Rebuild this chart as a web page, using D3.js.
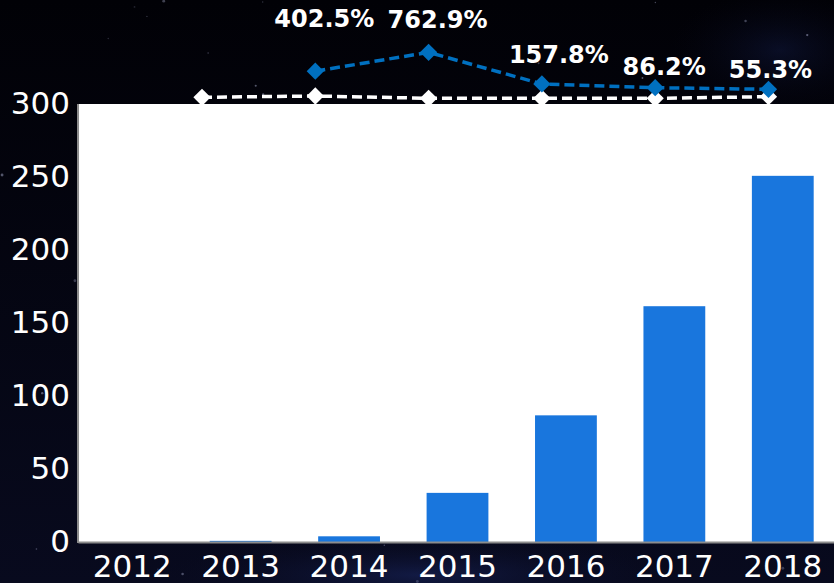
<html>
  <head>
    <title>growth</title>
    <script src="https://cdn.jsdelivr.net/npm/d3@7/dist/d3.min.js"></script>
  </head>
  <body style="margin: 0; background-color: #000;">
    <svg width="834" height="583" id="mainsvg"></svg>
    <script>
        // data
        const years = ['2012', '2013', '2014', '2015', '2016', '2017', '2018'];
        const amounts = [0, 0.78, 3.9, 33.65, 86.75, 161.5, 250.8];
        const growthYears = ['2014', '2015', '2016', '2017', '2018'];
        const growthRates = [402.5, 762.9, 157.8, 86.2, 55.3];
        const refYears = ['2013', '2014', '2015', '2016', '2017', '2018'];
        const refValues = [2.7, 4.0, 1.7, 1.7, 1.7, 3.3];
        const yTicks = [0, 50, 100, 150, 200, 250, 300];

        // label nudges (dx, dy from the blue marker), layout only
        const labelNudge = [[9, -44], [9, -24], [17, -21], [9, -13], [2, -11]];

        const svg = d3.select('#mainsvg');
        const width = +svg.attr('width');
        const height = +svg.attr('height');
        const margin = {top: 104, right: -3, bottom: 41, left: 78};

        // dark space background
        const defs = svg.append('defs');
        const bg = defs.append('linearGradient').attr('id', 'bg')
            .attr('x1', 0).attr('y1', 0).attr('x2', 0).attr('y2', 1);
        bg.append('stop').attr('offset', '0%').attr('stop-color', '#010106');
        bg.append('stop').attr('offset', '100%').attr('stop-color', '#080a1e');
        const neb = defs.append('radialGradient').attr('id', 'neb');
        neb.append('stop').attr('offset', '0%').attr('stop-color', '#1c2a6a').attr('stop-opacity', 0.5);
        neb.append('stop').attr('offset', '100%').attr('stop-color', '#0a0c24').attr('stop-opacity', 0);
        svg.append('rect').attr('width', width).attr('height', height).attr('fill', 'url(#bg)');
        svg.append('ellipse').attr('cx', 420).attr('cy', 575).attr('rx', 260).attr('ry', 40).attr('fill', 'url(#neb)');
        svg.append('ellipse').attr('cx', 780).attr('cy', 50).attr('rx', 110).attr('ry', 60).attr('fill', 'url(#neb)').attr('opacity', 0.6);

        // a few faint stars (decoration, fixed seed)
        const rng = d3.randomLcg(0.42);
        for (let i = 0; i < 70; i++) {
            svg.append('circle')
            .attr('cx', rng() * width)
            .attr('cy', rng() * height)
            .attr('r', 0.6 + rng() * 0.9)
            .attr('fill', '#b8bde0')
            .attr('opacity', 0.15 + rng() * 0.35);
        }

        const xScale = d3.scaleBand()
            .domain(years)
            .range([margin.left, width - margin.right])
            .paddingInner(0.43)
            .paddingOuter(0.215);
        const yScale = d3.scaleLinear()
            .domain([0, 300])
            .range([height - margin.bottom, margin.top]);

        // plot area
        svg.append('rect')
            .attr('x', margin.left)
            .attr('y', margin.top)
            .attr('width', width - margin.left - margin.right)
            .attr('height', height - margin.top - margin.bottom)
            .attr('fill', '#ffffff');

        svg.selectAll('.bar').data(years).enter().append('rect')
            .attr('class', 'bar')
            .attr('x', d => xScale(d))
            .attr('width', xScale.bandwidth())
            .attr('y', (d, i) => yScale(amounts[i]))
            .attr('height', (d, i) => yScale(0) - yScale(amounts[i]))
            .attr('fill', '#1976dd');

        // axes
        const yAxisGroup = svg.append('g')
            .attr('transform', `translate(${margin.left}, 0)`)
            .call(d3.axisLeft(yScale).tickValues(yTicks).tickSize(0).tickPadding(8));
        const xAxisGroup = svg.append('g')
            .attr('transform', `translate(0, ${height - margin.bottom})`)
            .call(d3.axisBottom(xScale).tickSize(0).tickPadding(13));
        [yAxisGroup, xAxisGroup].forEach(g => {
            g.select('.domain').attr('stroke', '#8c8c8c').attr('stroke-width', 2);
            g.selectAll('text')
            .attr('fill', '#ffffff')
            .attr('font-family', 'DejaVu Sans')
            .attr('font-size', 31);
        });
        yAxisGroup.select('.domain').attr('d', `M0,${yScale(300)}V${yScale(0) + 1}`);

        // overlay lines above the plot
        const lx = d3.scalePoint().domain(years).range([88.7, 768.5]);
        const lyGrowth = d3.scaleLinear().domain([0, 800]).range([92.2, 50.4]);
        const lyRef = d3.scaleLinear().domain([0, 10]).range([100, 90]);
        const diamond = d3.symbol().type(d3.symbolDiamond2).size(190);

        const refLine = d3.line().x((d, i) => lx(refYears[i])).y(d => lyRef(d));
        svg.append('path')
            .attr('d', refLine(refValues))
            .attr('fill', 'none')
            .attr('stroke', '#ffffff')
            .attr('stroke-width', 3.5)
            .attr('stroke-dasharray', '10,5');
        svg.selectAll('.refpt').data(refValues).enter().append('path')
            .attr('class', 'refpt')
            .attr('d', diamond)
            .attr('transform', (d, i) => `translate(${lx(refYears[i])}, ${lyRef(d)})`)
            .attr('fill', '#ffffff');

        const growthLine = d3.line().x((d, i) => lx(growthYears[i])).y(d => lyGrowth(d));
        svg.append('path')
            .attr('d', growthLine(growthRates))
            .attr('fill', 'none')
            .attr('stroke', '#0070c0')
            .attr('stroke-width', 3.5)
            .attr('stroke-dasharray', '10,5');
        svg.selectAll('.gpt').data(growthRates).enter().append('path')
            .attr('class', 'gpt')
            .attr('d', diamond)
            .attr('transform', (d, i) => `translate(${lx(growthYears[i])}, ${lyGrowth(d)})`)
            .attr('fill', '#0070c0');

        svg.selectAll('.glabel').data(growthRates).enter().append('text')
            .attr('class', 'glabel')
            .attr('x', (d, i) => lx(growthYears[i]) + labelNudge[i][0])
            .attr('y', (d, i) => lyGrowth(d) + labelNudge[i][1])
            .attr('text-anchor', 'middle')
            .attr('fill', '#ffffff')
            .attr('font-family', 'DejaVu Sans')
            .attr('font-weight', 'bold')
            .attr('font-size', 24)
            .text(d => d.toFixed(1) + '%');
    </script>
  </body>
</html>
